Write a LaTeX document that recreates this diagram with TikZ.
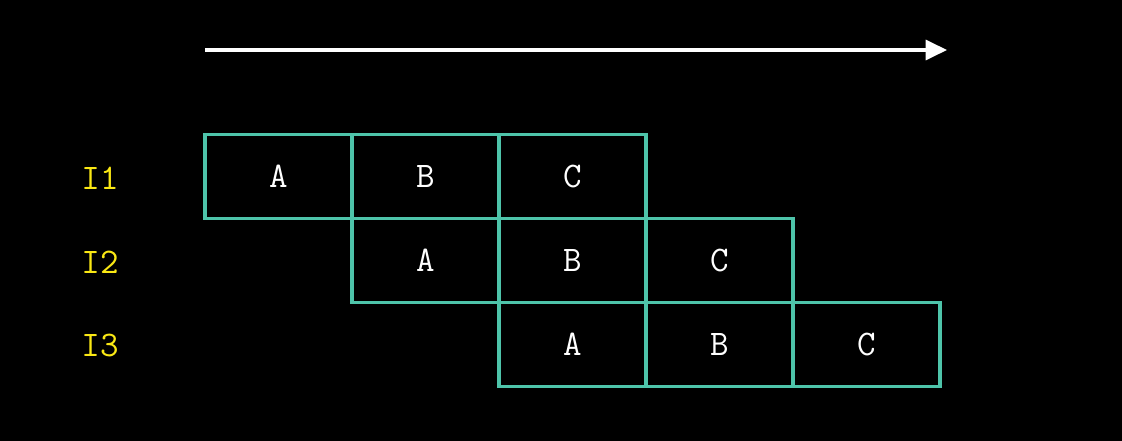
\documentclass[tikz,border=0pt]{standalone}
\usepackage{fontspec}
\usetikzlibrary{arrows.meta}
\definecolor{teal1}{RGB}{78,196,170}
\definecolor{yel}{RGB}{250,232,20}
\begin{document}
\begin{tikzpicture}[x=0.75pt,y=-0.75pt,
  cell/.style={draw=teal1,line width=2.4pt,minimum width=147*0.75pt,minimum height=84*0.75pt,inner sep=0pt,outer sep=0pt,text=white,font=\ttfamily\fontsize{27}{30}\selectfont},
  lab/.style={text=yel,font=\ttfamily\fontsize{27}{30}\selectfont}]
\fill[black] (0,0) rectangle (1122,441);
\useasboundingbox (0,0) rectangle (1122,441);
\coordinate (as) at (205,50);
\coordinate (ae) at (947,50);
\draw[white,line width=2.4pt,-{Triangle[length=16pt,width=15pt]}] (as) -- (ae);
\node[lab] (l1) at (100,178) {I1};
\node[lab] (l2) at (100,262) {I2};
\node[lab] (l3) at (100,346) {I3};
\node[cell] (a1) at (278.5,176.5) {A};
\node[cell] (b1) at (425.5,176.5) {B};
\node[cell] (c1) at (572.5,176.5) {C};
\node[cell] (a2) at (425.5,260.5) {A};
\node[cell] (b2) at (572.5,260.5) {B};
\node[cell] (c2) at (719.5,260.5) {C};
\node[cell] (a3) at (572.5,344.5) {A};
\node[cell] (b3) at (719.5,344.5) {B};
\node[cell] (c3) at (866.5,344.5) {C};
\end{tikzpicture}
\end{document}
